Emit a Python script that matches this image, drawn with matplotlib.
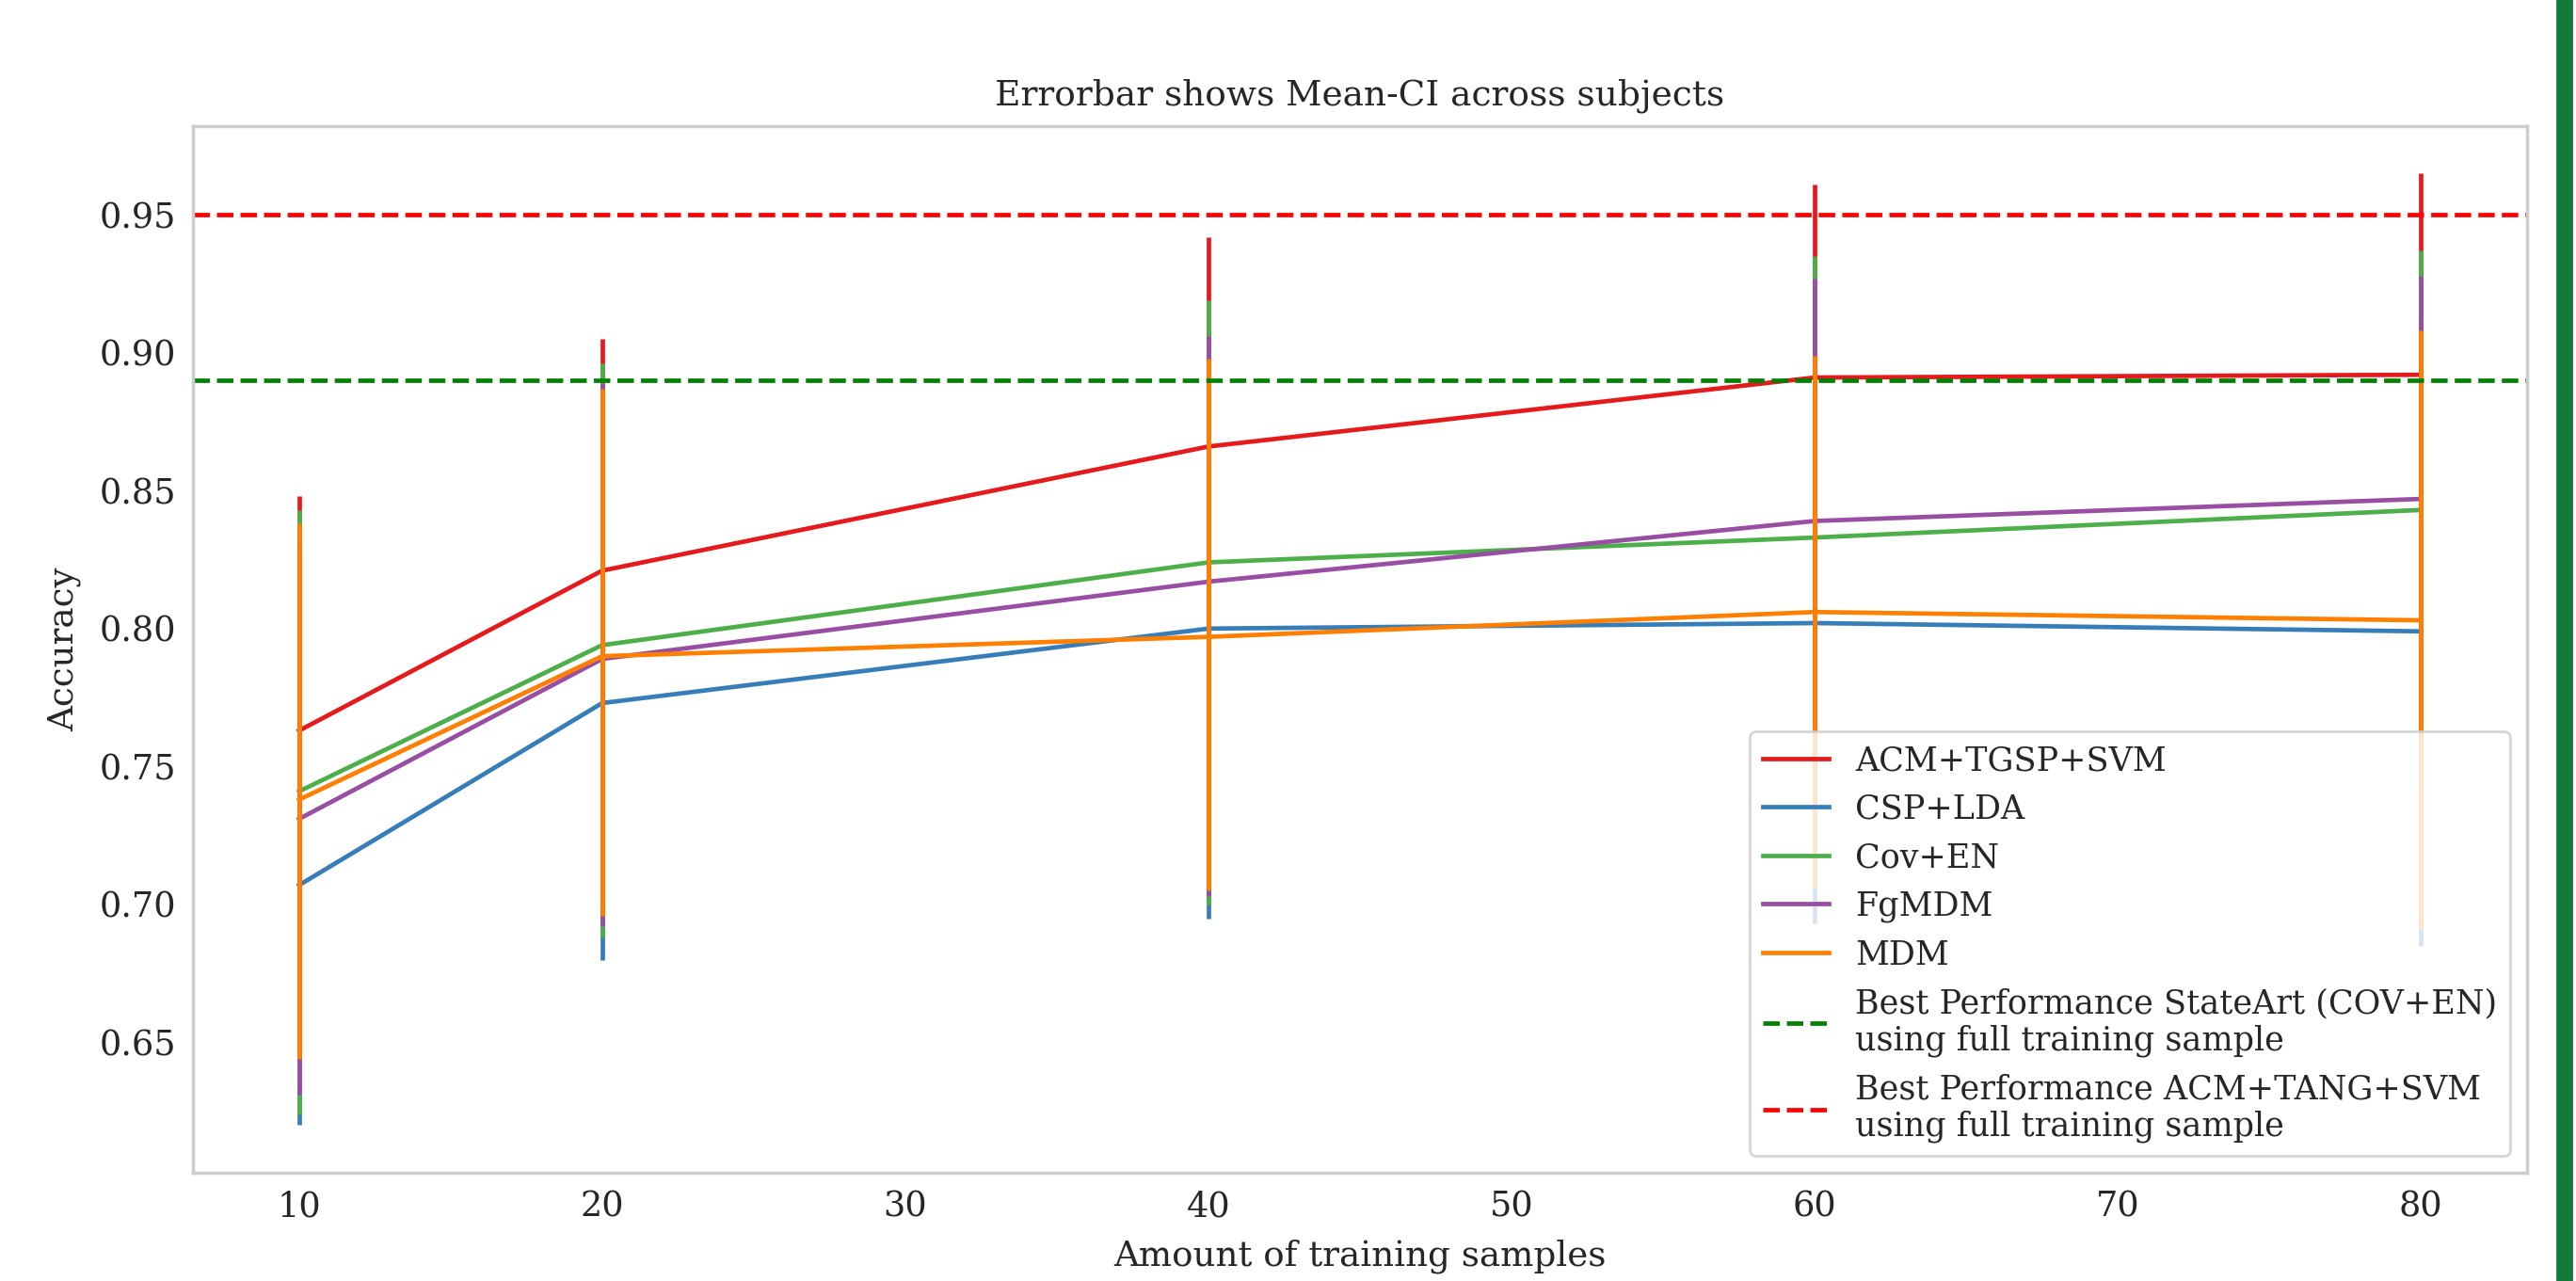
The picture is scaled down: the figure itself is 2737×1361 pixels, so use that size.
import matplotlib
matplotlib.use("Agg")
import matplotlib.pyplot as plt
from matplotlib.patches import Rectangle

# training-set sizes on the x axis
x_samples = [10, 20, 40, 60, 80]

# mean accuracy and CI bounds per pipeline
acm_mean = [0.763, 0.821, 0.866, 0.891, 0.892]
acm_lo = [0.680, 0.740, 0.790, 0.820, 0.820]
acm_hi = [0.848, 0.905, 0.942, 0.961, 0.965]

csp_mean = [0.707, 0.773, 0.800, 0.802, 0.799]
csp_lo = [0.620, 0.680, 0.695, 0.693, 0.685]
csp_hi = [0.790, 0.860, 0.880, 0.890, 0.895]

cov_mean = [0.741, 0.794, 0.824, 0.833, 0.843]
cov_lo = [0.624, 0.688, 0.700, 0.730, 0.745]
cov_hi = [0.843, 0.896, 0.919, 0.935, 0.937]

fg_mean = [0.731, 0.789, 0.817, 0.839, 0.847]
fg_lo = [0.631, 0.692, 0.703, 0.750, 0.765]
fg_hi = [0.830, 0.889, 0.906, 0.927, 0.928]

mdm_mean = [0.738, 0.790, 0.797, 0.806, 0.803]
mdm_lo = [0.644, 0.696, 0.705, 0.706, 0.691]
mdm_hi = [0.838, 0.887, 0.898, 0.899, 0.908]

best_stateart = 0.89
best_acm_tang = 0.95

series = [
    ("ACM+TGSP+SVM", acm_mean, acm_lo, acm_hi, "#e41a1c"),
    ("CSP+LDA", csp_mean, csp_lo, csp_hi, "#377eb8"),
    ("Cov+EN", cov_mean, cov_lo, cov_hi, "#4daf4a"),
    ("FgMDM", fg_mean, fg_lo, fg_hi, "#984ea3"),
    ("MDM", mdm_mean, mdm_lo, mdm_hi, "#ff7f00"),
]

plt.rcParams["font.family"] = ["DejaVu Serif"]
plt.rcParams["text.color"] = ".15"
plt.rcParams["axes.labelcolor"] = ".15"
plt.rcParams["xtick.color"] = ".15"
plt.rcParams["ytick.color"] = ".15"

fig = plt.figure(figsize=(13.685, 6.805), dpi=200)
ax = fig.add_axes([0.0749, 0.0845, 0.9061, 0.8173])

lw = 1.7
for label, mean, lo, hi, color in series:
    ax.plot(x_samples, mean, color=color, lw=lw, label=label)
    ax.vlines(x_samples, lo, hi, color=color, lw=lw)

ax.axhline(best_stateart, color="green", ls="--", lw=lw,
           label="Best Performance StateArt (COV+EN)\nusing full training sample")
ax.axhline(best_acm_tang, color="red", ls="--", lw=lw,
           label="Best Performance ACM+TANG+SVM\nusing full training sample")

ax.set_title("Errorbar shows Mean-CI across subjects", fontsize=13.5, pad=8)
ax.set_xlabel("Amount of training samples", fontsize=13.4, labelpad=6)
ax.set_ylabel("Accuracy", fontsize=13.4, labelpad=7)
ax.set_yticks([0.65, 0.70, 0.75, 0.80, 0.85, 0.90, 0.95])
ax.tick_params(length=0, pad=6.5, labelsize=13.2)

for sp in ax.spines.values():
    sp.set_color(".8")
    sp.set_linewidth(1.25)

ax.legend(loc="lower right", fontsize=12.6, edgecolor=".8")

# green strip at the right edge of the screenshot
fig.patches.append(Rectangle((0.9927, 0.0), 0.0055, 1.0, transform=fig.transFigure,
                             color="#147a38", zorder=0))

fig.savefig("out.png", dpi=200)
